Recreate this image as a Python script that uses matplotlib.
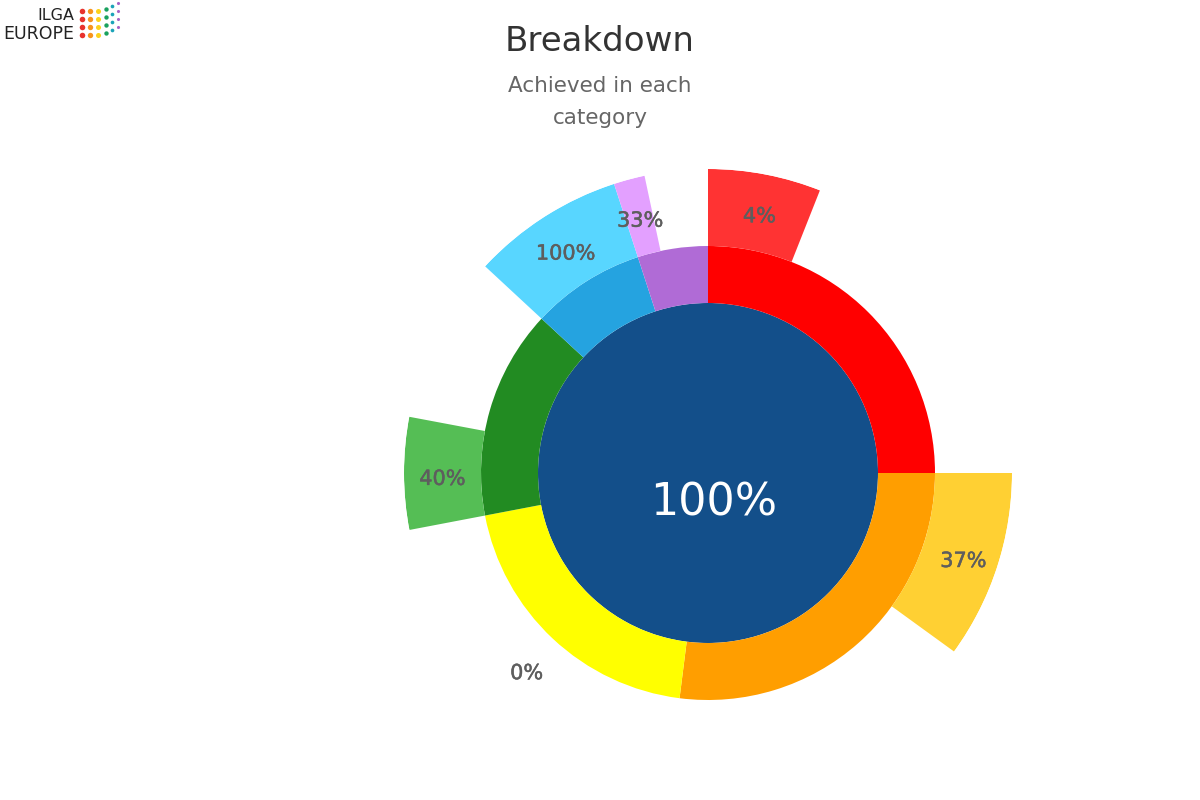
import numpy as np
import matplotlib
matplotlib.use('Agg')
import matplotlib.pyplot as plt
import matplotlib.patheffects as pe

# share of the full circle taken by each category (inner ring)
category_share = [25, 27, 20, 14.9, 8.1, 5.0]
# fraction of each category's span covered by the outer (achieved) ring
achieved_fraction = [0.24, 0.37, 0.0, 0.40, 1.0, 0.33]
achieved_labels = ['4%', '37%', '0%', '40%', '100%', '33%']
inner_colors = ['#ff0000', '#ff9e00', '#ffff00', '#228b22', '#25a3e0', '#b06bd6']
outer_colors = ['#ff3333', '#ffd033', '#ffff33', '#55be55', '#58d6ff', '#e3a0ff']
total_label = '100%'

W, H = 1200, 800
cx, cy = 708, 473
r_center, r_inner, r_outer = 170, 227, 304

fig = plt.figure(figsize=(12, 8), dpi=100)

ax = fig.add_axes([(cx - r_outer) / W, (H - cy - r_outer) / H,
                   2 * r_outer / W, 2 * r_outer / H], projection='polar')
ax.set_theta_zero_location('N')
ax.set_theta_direction(-1)
ax.set_ylim(0, r_outer)
ax.axis('off')

# centre disc
ax.bar(0, r_center, width=2 * np.pi, bottom=0, color='#134f8a', linewidth=0)

widths = np.array(category_share) / sum(category_share) * 2 * np.pi
starts = np.concatenate([[0], np.cumsum(widths)[:-1]])

ax.bar(starts, r_inner - r_center, width=widths, bottom=r_center,
       align='edge', color=inner_colors, linewidth=0)

outer_w = widths * np.array(achieved_fraction)
ax.bar(starts, r_outer - r_inner, width=outer_w, bottom=r_inner,
       align='edge', color=outer_colors, linewidth=0)

for s, w, ow, lab in zip(starts, widths, outer_w, achieved_labels):
    mid = s + (ow if ow > 0 else w) / 2
    ax.annotate(lab, (mid, 267), xytext=(1, -4), textcoords='offset points',
                ha='center', va='center', fontsize=15, color='#5e5e5e',
                path_effects=[pe.withStroke(linewidth=0.35, foreground='#5e5e5e')])

fig.text(714 / W, 1 - 515 / H, total_label, ha='center', va='baseline',
         fontsize=32, color='white')

# titles
fig.text(600 / W, 1 - 51 / H, 'Breakdown', ha='center', va='baseline',
         fontsize=24.5, color='#333333')
fig.text(600 / W, 1 - 92 / H, 'Achieved in each', ha='center', va='baseline',
         fontsize=15.5, color='#666666')
fig.text(600 / W, 1 - 124 / H, 'category', ha='center', va='baseline',
         fontsize=15.5, color='#666666')

# logo
fig.text(74 / W, 1 - 20 / H, 'ILGA', ha='right', va='baseline', fontsize=11.5, color='#222222')
fig.text(74 / W, 1 - 39 / H, 'EUROPE', ha='right', va='baseline', fontsize=12.5, color='#222222')
lax = fig.add_axes([0, 0, 1, 1], facecolor='none')
lax.set_xlim(0, W)
lax.set_ylim(H, 0)
lax.axis('off')
dot_cols = ['#e8322d', '#f7941d', '#fcd21c', '#1aa15f', '#1aa3b8', '#a863c7']
col_x = [82, 90, 98, 106, 112, 118]
col_top = [11, 11, 11, 9, 6, 3]
col_size = [16, 15, 13, 10, 7, 5]
for c, x0, y0, sz in zip(dot_cols, col_x, col_top, col_size):
    ys = [y0 + 8 * k for k in range(4)]
    lax.scatter([x0] * 4, ys, s=sz, color=c, linewidths=0)

fig.savefig('out.png', dpi=100)
